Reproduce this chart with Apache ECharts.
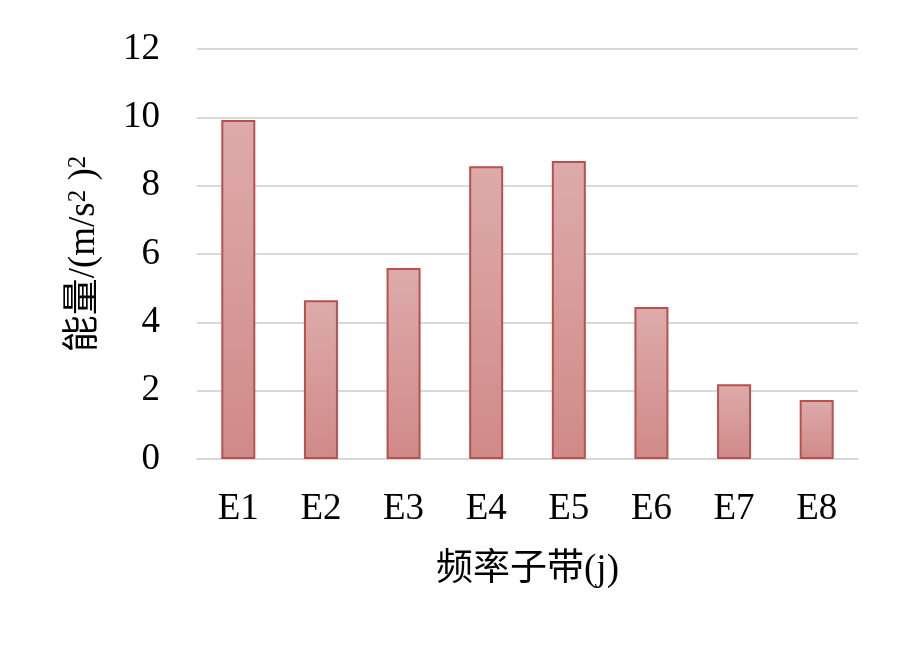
<!DOCTYPE html>
<html>
<head>
<meta charset="utf-8">
<script src="https://cdn.jsdelivr.net/npm/echarts@6/dist/echarts.min.js"></script>
<style>
html,body{margin:0;padding:0;background:#fff;}
#chart{width:909px;height:649px;}
</style>
</head>
<body>
<div id="chart"></div>
<script>
// 频率子带
var bands = ['E1', 'E2', 'E3', 'E4', 'E5', 'E6', 'E7', 'E8'];
// 能量值
var energy = [9.92, 4.65, 5.59, 8.57, 8.72, 4.45, 2.19, 1.73];
var yTicks = [0, 2, 4, 6, 8, 10, 12];

var serif = '"Liberation Serif", "Noto Sans CJK SC", serif';
var myChart = echarts.init(document.getElementById('chart'));
var option = {
    backgroundColor: '#fff',
    animation: false,
    grid: {
        left: 197,
        right: 51,
        top: 49,
        bottom: 190
    },
    xAxis: {
        type: 'category',
        data: bands,
        name: '频率子带(j)',
        nameLocation: 'middle',
        nameGap: 93,
        nameTextStyle: { fontFamily: serif, fontSize: 37, color: '#000' },
        axisLine: { lineStyle: { color: '#d9d9d9', width: 2 } },
        axisTick: { show: false },
        axisLabel: { fontFamily: serif, fontSize: 37, color: '#000', margin: 32 }
    },
    yAxis: {
        type: 'value',
        min: yTicks[0],
        max: yTicks[yTicks.length - 1],
        interval: 2,
        // 上标用富文本
        name: '{a|能量/(m/s}{s|2}{a| )}{s|2}',
        nameLocation: 'middle',
        nameRotate: 90,
        nameGap: 94,
        nameTextStyle: {
            fontFamily: serif, fontSize: 37, color: '#000',
            rich: {
                a: { fontFamily: serif, fontSize: 37, color: '#000' },
                s: { fontFamily: serif, fontSize: 25, color: '#000', verticalAlign: 'top' }
            }
        },
        axisLine: { show: false },
        axisTick: { show: false },
        axisLabel: { fontFamily: serif, fontSize: 37, color: '#000', margin: 37 },
        splitLine: { lineStyle: { color: '#d9d9d9', width: 2 } }
    },
    series: [{
        type: 'bar',
        data: energy,
        barWidth: 34,
        itemStyle: {
            color: new echarts.graphic.LinearGradient(0, 0, 0, 1, [
                { offset: 0, color: '#ddabab' },
                { offset: 1, color: '#d08a88' }
            ]),
            borderColor: '#b9504d',
            borderWidth: 2
        }
    }]
};
myChart.setOption(option);
</script>
</body>
</html>
